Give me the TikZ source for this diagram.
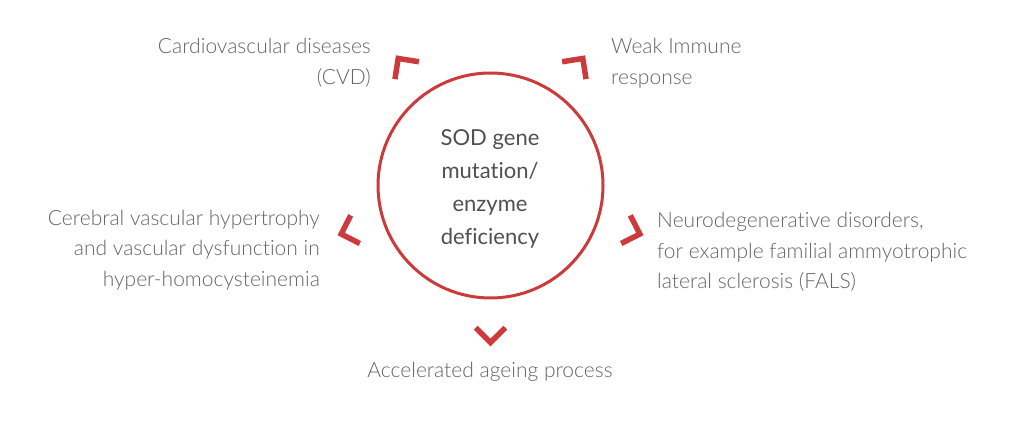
\documentclass[tikz,border=0pt]{standalone}
\usepackage{fontspec}
\usetikzlibrary{calc}
\setmainfont{Lato}[Ligatures=NoCommon]
\newfontfamily\lightfont{Lato Light}[Ligatures=NoCommon]
\definecolor{cred}{RGB}{204,58,60}
\definecolor{tgray}{RGB}{100,100,100}
\definecolor{cgray}{RGB}{80,80,80}
\begin{document}
\begin{tikzpicture}[x=1pt,y=1pt,
  lbl/.style={inner sep=0pt, text=tgray, font=\lightfont\fontsize{21}{30.5}\selectfont},
  ctr/.style={inner sep=0pt, text=cgray, align=center, font=\fontsize{22}{33}\selectfont},
  ring/.style={draw=cred, line width=3pt},
  chev/.style={draw=cred, line width=5.5pt, line join=miter, line cap=butt}]
\useasboundingbox (0,0) rectangle (1024,428);
\coordinate (C) at (490.5,242.5);
\node[ring, circle, minimum size=225pt, inner sep=0pt] (circ) at (C) {};
\node[ctr] (main) at (490,239) {SOD gene\\mutation/\\enzyme\\deficiency};
\foreach \a/\n in {270/cb,342/cr,54/ctr,126/ctl,198/cl}{
  \coordinate (\n) at ($(C)+(\a:157)$);
  \draw[chev, shift={(\n)}, rotate=\a] (-14.8,14.8) -- (0,0) -- (-14.8,-14.8);
}
\node[lbl, anchor=east, align=right] (cvd) at (371,365) {Cardiovascular diseases\\(CVD)};
\node[lbl, anchor=west, align=left] (imm) at (611,365) {Weak Immune\\response};
\node[lbl, anchor=east, align=right] (cer) at (320,178) {Cerebral vascular hypertrophy\\and vascular dysfunction in\\hyper-homocysteinemia};
\node[lbl, anchor=west, align=left] (neu) at (657,176) {Neurodegenerative disorders,\\for example familial ammyotrophic\\lateral sclerosis (FALS)};
\node[lbl, anchor=center] (age) at (490,56) {Accelerated ageing process};
\end{tikzpicture}
\end{document}
